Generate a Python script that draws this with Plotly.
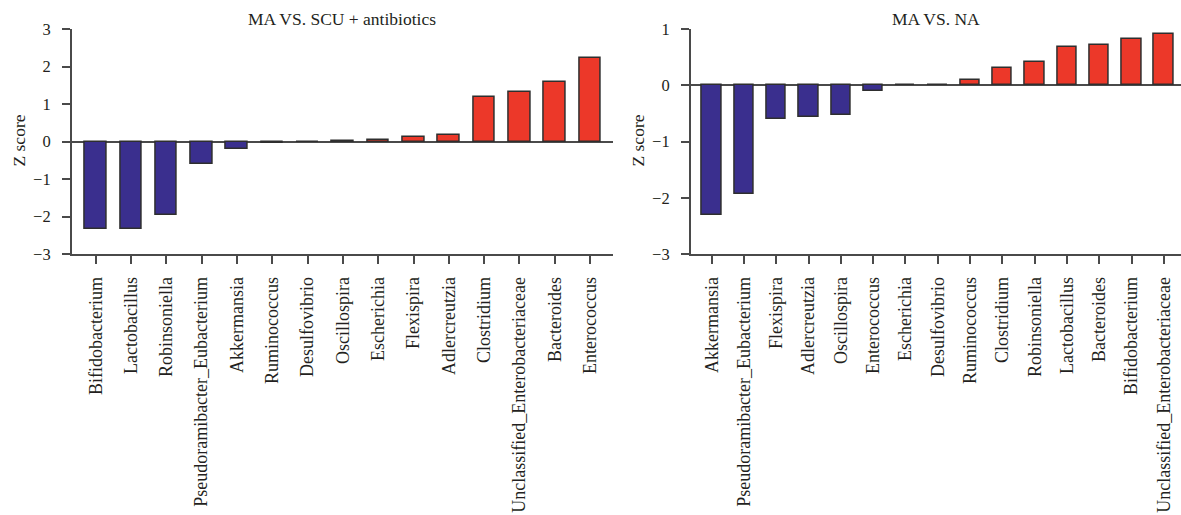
import plotly.graph_objects as go

# ---- data ----
left_title = "MA VS. SCU + antibiotics"
left_categories = ["Bifidobacterium", "Lactobacillus", "Robinsoniella",
                   "Pseudoramibacter_Eubacterium", "Akkermansia", "Ruminococcus",
                   "Desulfovibrio", "Oscillospira", "Escherichia", "Flexispira",
                   "Adlercreutzia", "Clostridium", "Unclassified_Enterobacteriaceae",
                   "Bacteroides", "Enterococcus"]
left_values = [-2.33, -2.32, -1.95, -0.60, -0.21, -0.03, 0.0, 0.02, 0.03, 0.11,
               0.17, 1.18, 1.33, 1.59, 2.22]
left_yticks = [-3, -2, -1, 0, 1, 2, 3]

right_title = "MA VS. NA"
right_categories = ["Akkermansia", "Pseudoramibacter_Eubacterium", "Flexispira",
                    "Adlercreutzia", "Oscillospira", "Enterococcus", "Escherichia",
                    "Desulfovibrio", "Ruminococcus", "Clostridium", "Robinsoniella",
                    "Lactobacillus", "Bacteroides", "Bifidobacterium",
                    "Unclassified_Enterobacteriaceae"]
right_values = [-2.31, -1.94, -0.60, -0.56, -0.52, -0.10, 0.0, 0.0, 0.09, 0.30,
                0.41, 0.68, 0.72, 0.82, 0.92]
right_yticks = [-3, -2, -1, 0, 1]

y_label = "Z score"

# ---- styling ----
BLUE = "#3a2f8e"
RED = "#ec3829"
EDGE = "#2e2e2e"
AXIS = "#4a4a4a"
TXT = "#231f20"
FONT = "Liberation Serif, Times New Roman, serif"
W, H = 1181, 515
TOP, BOTTOM = 29, 254          # pixel rows of the plot area
PH = BOTTOM - TOP


def colors(vals):
    return [BLUE if v < 0 else RED for v in vals]


def py(pixel_row):
    # paper y for a pixel row (paper spans the plot area vertically)
    return (BOTTOM - pixel_row) / PH


fig = go.Figure()
fig.add_trace(go.Bar(x=list(range(len(left_categories))), y=left_values,
                     marker=dict(color=colors(left_values), line=dict(color=EDGE, width=1.5)),
                     width=0.61, xaxis="x", yaxis="y", showlegend=False))
fig.add_trace(go.Bar(x=list(range(len(right_categories))), y=right_values,
                     marker=dict(color=colors(right_values), line=dict(color=EDGE, width=1.5)),
                     width=0.6, xaxis="x2", yaxis="y2", showlegend=False))

xl = dict(showgrid=False, zeroline=False, showline=True, linecolor=AXIS, linewidth=1.5,
          ticks="outside", ticklen=8, tickwidth=1.5, tickcolor=AXIS, tickangle=-90,
          tickfont=dict(family=FONT, size=18, color=TXT), ticklabelstandoff=6)
yl = dict(showgrid=False, zeroline=True, zerolinecolor=AXIS, zerolinewidth=1.5,
          showline=True, linecolor=AXIS, linewidth=1.5,
          ticks="outside", ticklen=8, tickwidth=1.5, tickcolor=AXIS,
          tickfont=dict(family=FONT, size=16.5, color=TXT), ticklabelstandoff=8)

L0, L1 = 71.7 / W, 613 / W
R0, R1 = 690.7 / W, 1.0

fig.update_layout(
    width=W, height=H,
    margin=dict(l=0, r=0, t=TOP, b=H - BOTTOM),
    plot_bgcolor="white", paper_bgcolor="white",
    bargap=0,
    xaxis=dict(xl, domain=[L0, L1], range=[-0.68, 14.65],
               tickvals=list(range(len(left_categories))), ticktext=left_categories,
               anchor="y"),
    yaxis=dict(yl, domain=[0, 1], range=[-3, 3], tickvals=left_yticks,
               ticktext=[str(v).replace("-", "\u2212") for v in left_yticks], anchor="x"),
    xaxis2=dict(xl, domain=[R0, R1], range=[-0.65, 14.53],
                tickvals=list(range(len(right_categories))), ticktext=right_categories,
                anchor="y2"),
    yaxis2=dict(yl, domain=[0, 1], range=[-3, 1], tickvals=right_yticks,
                ticktext=[str(v).replace("-", "\u2212") for v in right_yticks], anchor="x2"),
    annotations=[
        dict(text=left_title, x=(L0 + L1) / 2, y=py(19), xref="paper", yref="paper",
             showarrow=False, xanchor="center", yanchor="middle",
             font=dict(family=FONT, size=17.5, color=TXT)),
        dict(text=right_title, x=(R0 + R1) / 2, y=py(19), xref="paper", yref="paper",
             showarrow=False, xanchor="center", yanchor="middle",
             font=dict(family=FONT, size=17.5, color=TXT)),
        dict(text=y_label, x=18 / W, y=py(140.5), xref="paper", yref="paper",
             showarrow=False, textangle=-90, xanchor="center", yanchor="middle",
             font=dict(family=FONT, size=17.5, color=TXT)),
        dict(text=y_label, x=637 / W, y=py(140.5), xref="paper", yref="paper",
             showarrow=False, textangle=-90, xanchor="center", yanchor="middle",
             font=dict(family=FONT, size=17.5, color=TXT)),
    ],
)

fig.write_html("out.html")
